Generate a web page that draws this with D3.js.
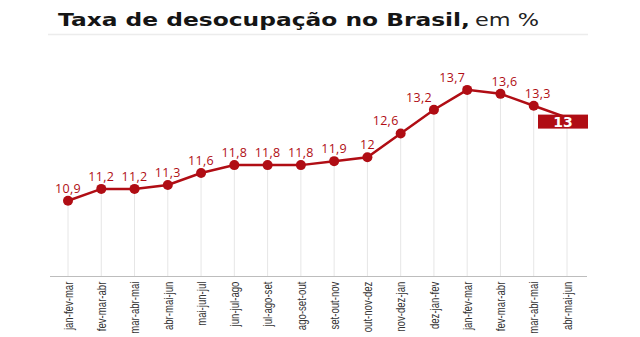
<!DOCTYPE html>
<html><head><meta charset="utf-8">
<script src="https://cdn.jsdelivr.net/npm/d3@7"></script>
<style>
html,body{margin:0;padding:0;background:#fff;}
svg{display:block;}
</style></head>
<body>
<svg id="c" width="640" height="337"></svg>
<script>
const categories = ["jan-fev-mar","fev-mar-abr","mar-abr-mai","abr-mai-jun","mai-jun-jul","jun-jul-ago","jul-ago-set","ago-set-out","set-out-nov","out-nov-dez","nov-dez-jan","dez-jan-fev","jan-fev-mar","fev-mar-abr","mar-abr-mai","abr-mai-jun"];
const values = [10.9,11.2,11.2,11.3,11.6,11.8,11.8,11.8,11.9,12,12.6,13.2,13.7,13.6,13.3,13];
const titleBold = "Taxa de desocupação no Brasil,";
const titleLight = "em %";

const svg = d3.select("#c");
const red = "#b00d14";
const fmt = v => String(v).replace(".", ",");

const x = d3.scalePoint().domain(d3.range(categories.length)).range([68, 567]);
const y = d3.scaleLinear().domain([9, 14]).range([276, 78]);

// title
svg.append("text").attr("x", 58).attr("y", 26)
  .attr("textLength", 412).attr("lengthAdjust", "spacingAndGlyphs")
  .style("font-family", "'DejaVu Sans', sans-serif").style("font-size", "17px").style("font-weight", "900")
  .attr("fill", "#151515").text(titleBold);
svg.append("text").attr("x", 475).attr("y", 26)
  .attr("textLength", 64).attr("lengthAdjust", "spacingAndGlyphs")
  .style("font-family", "'DejaVu Sans', sans-serif").style("font-size", "17px").style("font-weight", "normal")
  .attr("fill", "#222").text(titleLight);
svg.append("line").attr("x1", 48).attr("x2", 588).attr("y1", 34.5).attr("y2", 34.5)
  .attr("stroke", "#ececec").attr("stroke-width", 1.5);

// gridlines
svg.append("g").selectAll("line").data(values).join("line")
  .attr("x1", (d, i) => x(i)).attr("x2", (d, i) => x(i))
  .attr("y1", d => y(d)).attr("y2", y(9))
  .attr("stroke", "#e6e6e6").attr("stroke-width", 1);

// x axis
const xa = svg.append("g").attr("transform", `translate(0,${y(9)})`)
  .call(d3.axisBottom(x).tickSize(0).tickFormat(i => categories[i]));
xa.select(".domain").remove();
svg.append("line").attr("x1", 50).attr("x2", 587).attr("y1", y(9) + 0.5).attr("y2", y(9) + 0.5)
  .attr("stroke", "#bdbdbd").attr("stroke-width", 1);
xa.selectAll("text")
  .attr("transform", "rotate(-90) scale(0.8,1)")
  .attr("x", -7).attr("y", 0).attr("dy", "0.35em")
  .attr("text-anchor", "end")
  .style("font-family", "'Liberation Sans', sans-serif")
  .style("font-size", "12px").attr("fill", "#333");

// line
svg.append("path").datum(values)
  .attr("d", d3.line().x((d, i) => x(i)).y(d => y(d)))
  .attr("fill", "none").attr("stroke", red).attr("stroke-width", 2.5);

svg.append("g").selectAll("circle").data(values.slice(0, -1)).join("circle")
  .attr("cx", (d, i) => x(i)).attr("cy", d => y(d)).attr("r", 5).attr("fill", red);

// value labels
svg.append("g").selectAll("text").data(values.slice(0, -1)).join("text")
  .attr("x", (d, i) => {
    const prev = i > 0 ? values[i - 1] : d;
    const rise = d - prev;
    return x(i) + (rise >= 0.4 ? -15 : (rise < 0 ? 4 : 0));
  })
  .attr("y", d => y(d) - 8)
  .attr("text-anchor", "middle")
  .style("font-family", "'Open Sans', sans-serif").style("font-size", "12.5px")
  .style("letter-spacing", "0.3px")
  .attr("fill", red).text(d => fmt(d));

// last highlighted value
const li = values.length - 1;
const bx = x(li) - 4;
svg.append("rect").attr("x", bx - 25).attr("y", y(values[li]) - 3).attr("width", 50).attr("height", 14)
  .attr("fill", red);
svg.append("text").attr("x", bx).attr("y", y(values[li]) + 9.5)
  .attr("text-anchor", "middle")
  .style("font-family", "'DejaVu Sans', sans-serif").style("font-weight", "bold").style("font-size", "14px")
  .attr("fill", "#fff").text(fmt(values[li]));
</script>
</body></html>
